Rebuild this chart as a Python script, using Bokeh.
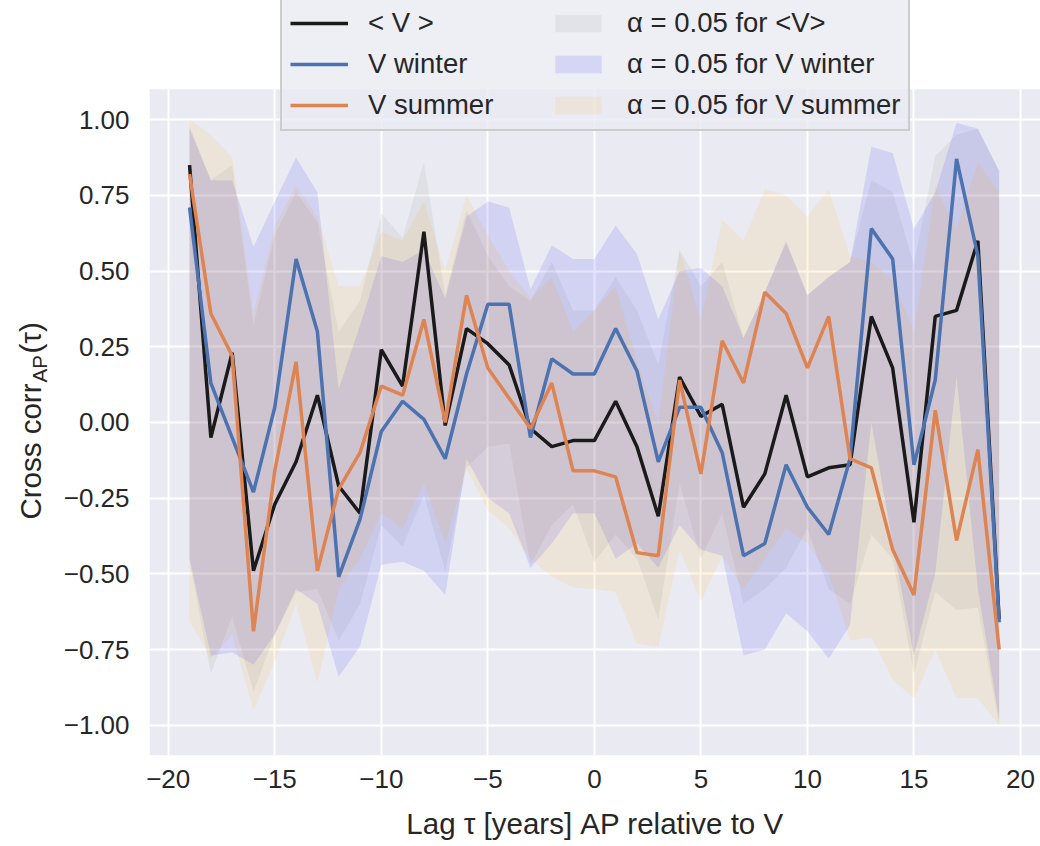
import numpy as np
from bokeh.plotting import figure
from bokeh.layouts import row
from bokeh.models import Legend, LegendItem, FixedTicker, Label, Range1d, BoxAnnotation
from bokeh.embed import file_html
from bokeh.resources import INLINE

# ---------------- data ----------------
lags = [-19, -18, -17, -16, -15, -14, -13, -12, -11, -10,
        -9, -8, -7, -6, -5, -4, -3, -2, -1, 0,
        1, 2, 3, 4, 5, 6, 7, 8, 9, 10,
        11, 12, 13, 14, 15, 16, 17, 18, 19]

v_mean = [0.85, -0.05, 0.23, -0.49, -0.27, -0.13, 0.09, -0.21, -0.30, 0.24,
          0.12, 0.63, -0.01, 0.31, 0.26, 0.19, -0.02, -0.08, -0.06, -0.06,
          0.07, -0.08, -0.31, 0.15, 0.02, 0.06, -0.28, -0.17, 0.09, -0.18,
          -0.15, -0.14, 0.35, 0.18, -0.33, 0.35, 0.37, 0.60, -0.65]

v_winter = [0.71, 0.13, -0.05, -0.23, 0.05, 0.54, 0.30, -0.51, -0.32, -0.03,
            0.07, 0.01, -0.12, 0.16, 0.39, 0.39, -0.05, 0.21, 0.16, 0.16,
            0.31, 0.17, -0.13, 0.05, 0.05, -0.10, -0.44, -0.40, -0.14, -0.28,
            -0.37, -0.12, 0.64, 0.54, -0.14, 0.14, 0.87, 0.55, -0.66]

v_summer = [0.82, 0.36, 0.22, -0.69, -0.16, 0.20, -0.49, -0.22, -0.10, 0.12,
            0.09, 0.34, 0.00, 0.42, 0.18, 0.08, -0.02, 0.13, -0.16, -0.16,
            -0.18, -0.43, -0.44, 0.14, -0.17, 0.27, 0.13, 0.43, 0.36, 0.18,
            0.35, -0.12, -0.15, -0.42, -0.57, 0.04, -0.39, -0.09, -0.75]

# alpha = 0.05 bands
mean_hi = [0.98, 0.80, 0.85, 0.32, 0.62, 0.76, 0.66, 0.30, 0.40, 0.69,
           0.61, 0.86, 0.42, 0.70, 0.55, 0.45, 0.40, 0.53, 0.37, 0.37,
           0.48, 0.37, 0.19, 0.57, 0.45, 0.53, 0.28, 0.43, 0.60, 0.42,
           0.48, 0.53, 0.80, 0.76, 0.52, 0.88, 0.95, 0.97, 0.83]
mean_lo = [-0.46, -0.83, -0.64, -0.89, -0.70, -0.56, -0.55, -0.72, -0.60, -0.34,
           -0.41, -0.24, -0.49, -0.15, -0.08, -0.07, -0.47, -0.34, -0.27, -0.46,
           -0.37, -0.45, -0.65, -0.20, -0.45, -0.30, -0.60, -0.55, -0.48, -0.35,
           -0.55, -0.60, -0.37, -0.45, -0.83, -0.56, -0.62, -0.61, -1.00]

winter_hi = [0.97, 0.80, 0.80, 0.58, 0.73, 0.875, 0.76, 0.11, 0.32, 0.55,
             0.53, 0.57, 0.41, 0.68, 0.73, 0.71, 0.44, 0.585, 0.54, 0.54,
             0.65, 0.556, 0.34, 0.50, 0.51, 0.45, 0.28, 0.43, 0.595, 0.42,
             0.48, 0.53, 0.91, 0.89, 0.64, 0.76, 0.99, 0.97, 0.83]
winter_lo = [-0.45, -0.77, -0.76, -0.80, -0.70, -0.55, -0.60, -0.84, -0.74, -0.47,
             -0.46, -0.49, -0.57, -0.12, -0.25, -0.30, -0.48, -0.40, -0.30, -0.30,
             -0.45, -0.40, -0.48, -0.34, -0.42, -0.44, -0.77, -0.75, -0.63, -0.69,
             -0.78, -0.67, 0.00, -0.40, -0.77, -0.50, 0.15, -0.55, -0.98]

summer_hi = [1.00, 0.95, 0.875, 0.36, 0.65, 0.78, 0.68, 0.45, 0.45, 0.63,
             0.60, 0.73, 0.50, 0.75, 0.62, 0.50, 0.41, 0.48, 0.30, 0.37,
             0.45, 0.20, 0.00, 0.57, 0.34, 0.67, 0.60, 0.77, 0.75, 0.68,
             0.77, 0.55, 0.53, 0.47, 0.30, 0.78, 0.64, 0.86, 0.76]
summer_lo = [-0.655, -0.78, -0.70, -0.95, -0.79, -0.60, -0.86, -0.55, -0.45, -0.30,
             -0.35, -0.20, -0.40, -0.15, -0.29, -0.35, -0.45, -0.51, -0.545, -0.55,
             -0.56, -0.73, -0.74, -0.42, -0.59, -0.44, -0.55, -0.45, -0.35, -0.40,
             -0.50, -0.72, -0.71, -0.85, -0.91, -0.75, -0.91, -0.91, -1.00]

x_ticks = [-20, -15, -10, -5, 0, 5, 10, 15, 20]
x_tick_labels = ["\u221220", "\u221215", "\u221210", "\u22125", "0", "5", "10", "15", "20"]
y_ticks = [-1.0, -0.75, -0.5, -0.25, 0.0, 0.25, 0.5, 0.75, 1.0]
y_tick_labels = ["\u22121.00", "\u22120.75", "\u22120.50", "\u22120.25", "0.00",
                 "0.25", "0.50", "0.75", "1.00"]

series_labels = ["< V >", "V winter", "V summer"]
band_labels = ["\u03b1 = 0.05 for <V>", "\u03b1 = 0.05 for V winter", "\u03b1 = 0.05 for V summer"]
x_title = "Lag \u03c4 [years] AP relative to V"
y_title_parts = ["Cross corr", "AP", "(\u03c4)"]

# axes limits (matplotlib-style margins)
X_MIN, X_MAX = -20.88, 20.94
Y_MIN, Y_MAX = -1.1, 1.1
Y_TOP = 1.3934          # extra room above the axes for the legend

# ---------------- figure ----------------
FONT = "Liberation Sans"
TXT = "#262626"
BG = "#EAEAF2"

p = figure(width=980, height=842,
           x_range=Range1d(X_MIN, X_MAX), y_range=Range1d(Y_MIN, Y_TOP),
           output_backend="svg", toolbar_location=None,
           min_border_left=88, min_border_right=0,
           min_border_top=0, min_border_bottom=84,
           background_fill_color="white", border_fill_color="white",
           outline_line_color=None)

# axes background only over the data area
p.add_layout(BoxAnnotation(bottom=Y_MIN, top=Y_MAX, fill_color=BG, fill_alpha=1.0,
                           line_color=None, level="image"))

for ax in (p.xaxis[0], p.yaxis[0]):
    ax.axis_line_color = None
    ax.major_tick_line_color = None
    ax.minor_tick_line_color = None
    ax.major_tick_out = 0
    ax.major_tick_in = 0
    ax.major_label_text_font = FONT
    ax.major_label_text_font_size = "26px"
    ax.major_label_text_color = TXT

p.xaxis.ticker = FixedTicker(ticks=x_ticks)
p.yaxis.ticker = FixedTicker(ticks=y_ticks)
p.xaxis.major_label_overrides = {t: l for t, l in zip(x_ticks, x_tick_labels)}
p.yaxis.major_label_overrides = {t: l for t, l in zip(y_ticks, y_tick_labels)}
p.xaxis.major_label_standoff = 14
p.yaxis.major_label_standoff = 20

p.xaxis.axis_label = x_title
p.xaxis.axis_label_text_font = FONT
p.xaxis.axis_label_text_font_size = "29.5px"
p.xaxis.axis_label_text_font_style = "normal"
p.xaxis.axis_label_text_color = TXT
p.xaxis.axis_label_standoff = 16

p.xgrid.ticker = FixedTicker(ticks=x_ticks)
p.ygrid.ticker = FixedTicker(ticks=y_ticks)
p.grid.grid_line_color = "white"
p.grid.grid_line_width = 2

# bands
b1 = p.varea(x=lags, y1=mean_lo, y2=mean_hi, fill_color="gray", fill_alpha=0.1)
b2 = p.varea(x=lags, y1=winter_lo, y2=winter_hi, fill_color="blue", fill_alpha=0.1)
b3 = p.varea(x=lags, y1=summer_lo, y2=summer_hi, fill_color="orange", fill_alpha=0.1)

# lines
l1 = p.line(lags, v_mean, line_color="#1A1A1A", line_width=3.5)
l2 = p.line(lags, v_winter, line_color="#4C72B0", line_width=3.5)
l3 = p.line(lags, v_summer, line_color="#DD8452", line_width=3.5)

legend = Legend(
    items=[LegendItem(label=series_labels[0], renderers=[l1]),
           LegendItem(label=series_labels[1], renderers=[l2]),
           LegendItem(label=series_labels[2], renderers=[l3]),
           LegendItem(label=band_labels[0], renderers=[b1]),
           LegendItem(label=band_labels[1], renderers=[b2]),
           LegendItem(label=band_labels[2], renderers=[b3])],
    location=(131, 624), ncols=2, orientation="vertical",
    glyph_width=58, glyph_height=22, label_standoff=20, label_width=172,
    spacing=9, padding=8, margin=0,
    label_text_font=FONT, label_text_font_size="27.5px", label_text_color=TXT,
    background_fill_color=BG, background_fill_alpha=0.8,
    border_line_color="#CCCCCC", border_line_width=2, border_line_alpha=1)
p.add_layout(legend)

# ---------------- y-axis title (separate narrow panel, with subscript) ----------------
ylab = figure(width=60, height=842, x_range=Range1d(0, 60), y_range=Range1d(0, 842),
              output_backend="svg", toolbar_location=None,
              min_border_left=0, min_border_right=0, min_border_top=0, min_border_bottom=0,
              x_axis_type=None, y_axis_type=None,
              background_fill_color="white", border_fill_color="white",
              outline_line_color=None)
# the row aligns this panel's frame with the main frame (bottom edge at the x axis)
junction = 372      # where "Cross corr" ends and the subscript begins (px above the x axis)
w_sub = 28
ylab.add_layout(Label(x=30, y=junction, x_units="screen", y_units="screen",
                      text=y_title_parts[0],
                      angle=np.pi / 2, text_align="right", text_baseline="middle",
                      text_font=FONT, text_font_size="29.5px", text_color=TXT))
ylab.add_layout(Label(x=39, y=junction + 1, x_units="screen", y_units="screen",
                      text=y_title_parts[1],
                      angle=np.pi / 2, text_align="left", text_baseline="middle",
                      text_font=FONT, text_font_size="20.5px", text_color=TXT))
ylab.add_layout(Label(x=30, y=junction + w_sub + 2, x_units="screen", y_units="screen",
                      text=y_title_parts[2],
                      angle=np.pi / 2, text_align="left", text_baseline="middle",
                      text_font=FONT, text_font_size="29.5px", text_color=TXT))

layout = row(ylab, p)
open("out.html", "w").write(file_html(layout, INLINE))
